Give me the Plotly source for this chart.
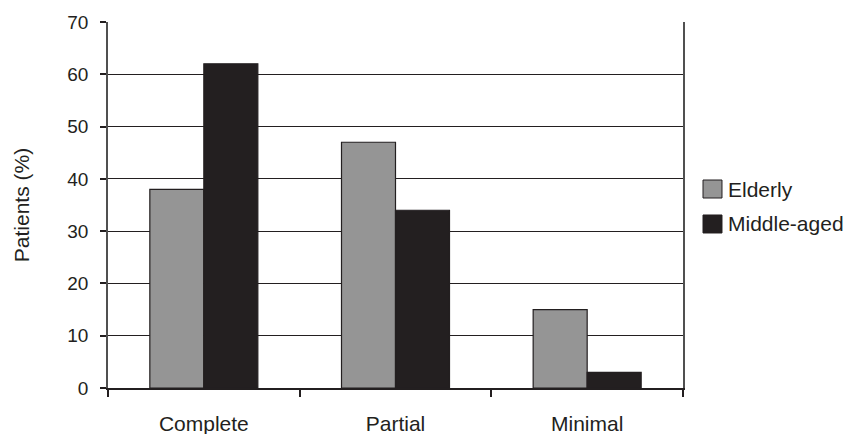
import plotly.graph_objects as go

categories = ["Complete", "Partial", "Minimal"]
elderly = [38, 47, 15]
middle_aged = [62, 34, 3]
y_ticks = [0, 10, 20, 30, 40, 50, 60, 70]

series_names = ["Elderly", "Middle-aged"]
series_colors = ["#959595", "#231f20"]

ink = "#231f20"
family = "Liberation Sans, Arial, sans-serif"

fig = go.Figure()
for name, values, color in zip(series_names, [elderly, middle_aged], series_colors):
    fig.add_trace(go.Bar(
        name=name, x=categories, y=values, showlegend=False,
        marker=dict(color=color, line=dict(color=ink, width=1.2)),
    ))

# Legend built from squares and labels to the right of the plot area
legend_x0, legend_x1 = 1.0348, 1.0678
legend_rows = [(0.5683, 0.5191), (0.4727, 0.4235)]
for (top, bottom), name, color in zip(legend_rows, series_names, series_colors):
    fig.add_shape(type="rect", xref="paper", yref="paper",
                  x0=legend_x0, x1=legend_x1, y0=bottom, y1=top,
                  fillcolor=color, line=dict(color=ink, width=1))
    fig.add_annotation(xref="paper", yref="paper", x=1.075, y=(top + bottom) / 2,
                       xanchor="left", yanchor="middle", showarrow=False,
                       text=name, font=dict(family=family, size=21, color=ink))

fig.update_layout(
    width=852, height=434,
    margin=dict(l=108, r=169, t=22, b=46),
    paper_bgcolor="white", plot_bgcolor="white",
    barmode="group", bargap=0.4365, bargroupgap=0,
    font=dict(family=family, size=19, color=ink),
    showlegend=False,
)
fig.update_xaxes(
    automargin=False,
    showline=True, linecolor=ink, linewidth=1.5,
    ticks="outside", tickson="boundaries", ticklen=7, tickcolor=ink, tickwidth=1.5,
    showgrid=False, tickfont=dict(size=21), ticklabelstandoff=16,
)
fig.update_yaxes(
    automargin=False,
    range=[0, 70], tickvals=y_ticks,
    showline=True, linecolor="#505050", linewidth=1.5, mirror=True,
    ticks="outside", ticklen=6, tickcolor=ink, tickwidth=1.5,
    showgrid=True, gridcolor=ink, gridwidth=1.2,
    zeroline=False, tickfont=dict(size=19), ticklabelstandoff=8,
    title=dict(text="Patients (%)", font=dict(size=21), standoff=32),
)

fig.write_html("out.html")
